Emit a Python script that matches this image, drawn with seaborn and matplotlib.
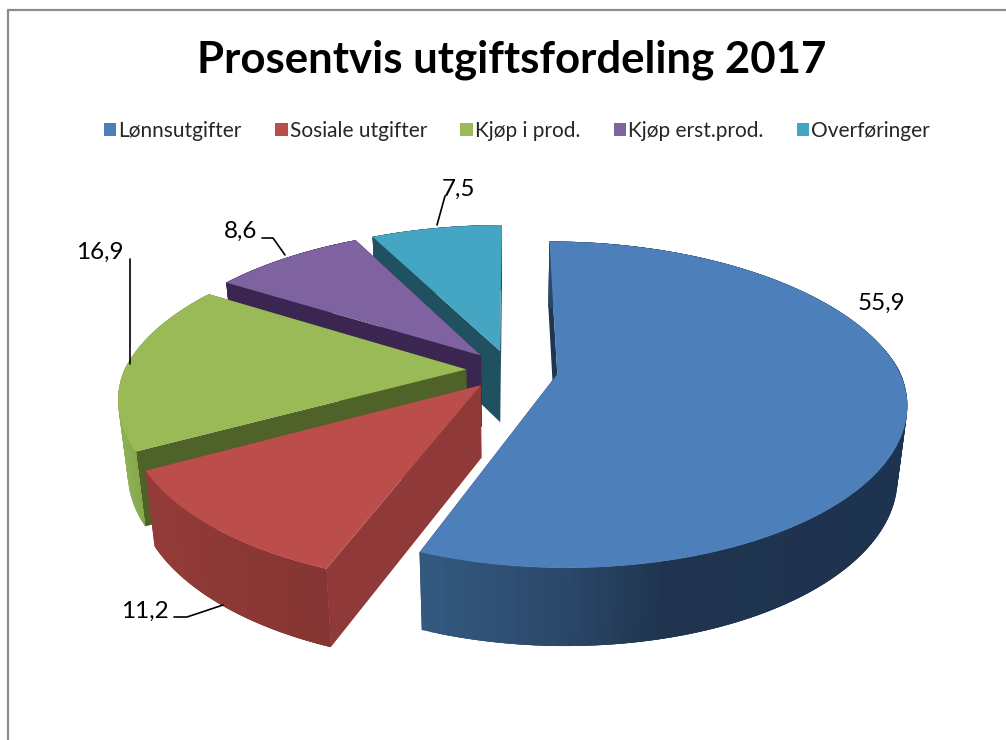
import numpy as np
import seaborn as sns
import matplotlib
matplotlib.use("Agg")
import matplotlib.pyplot as plt
import matplotlib.colors as mcolors
import matplotlib.transforms as mtransforms
from matplotlib.lines import Line2D

# =========================
# Data
# =========================
categories = ["Lønnsutgifter", "Sosiale utgifter", "Kjøp i prod.", "Kjøp erst.prod.", "Overføringer"]
values = [55.9, 11.2, 16.9, 8.6, 7.5]
value_labels = ["55,9", "11,2", "16,9", "8,6", "7,5"]
title = "Prosentvis utgiftsfordeling 2017"

# =========================
# Style
# =========================
top_colors = ["#4d7fbb", "#bb4e4b", "#9aba58", "#7f63a0", "#44a6c2"]
cut_colors = ["#1f3550", "#8f3a38", "#4f6228", "#3a2650", "#1f5160"]
outer_stops = [
    ([422, 560, 660, 905], ["#34597f", "#2a4869", "#20344f", "#1e3350"]),
    ([150, 330], ["#933b39", "#843532"]),
    ([120, 150], ["#8eb255", "#7da045"]),
    ([220, 360], ["#3a2650", "#3a2650"]),
    ([370, 505], ["#1f5160", "#1f5160"]),
]
explode = [0.14, 0.128, 0.128, 0.128, 0.128]
label_pos = [(881, 303), (145, 611), (100, 252), (241, 231), (459, 189)]
leaders = [
    None,
    ([174, 187, 223], [617, 617, 605]),
    ([130, 130], [259, 364]),
    ([262, 273, 285], [238, 238, 255]),
    ([437, 445], [225, 196]),
]

CX, CY = 510, 370
RX, RY = 342, 156
KX_BACK, KX_FRONT, KY = 0.20, 0.17, 0.187


# tilted view of the unit pie, z=0 is the top face and z=1 the bottom one
def project(u, v, z=0.0):
    u = np.asarray(u, dtype=float)
    v = np.asarray(v, dtype=float)
    kx = np.where(v > 0, KX_BACK, KX_FRONT)
    x = CX + RX * u / (1 + kx * v)
    y = CY - RY * v / (1 + KY * v)
    x = CX + (x - CX) * (1 - 0.025 * z)
    y = y + (72 - 6 * v) * z
    return x, y


class TiltTransform(mtransforms.Transform):
    input_dims = 2
    output_dims = 2
    is_separable = False
    has_inverse = False

    def transform_non_affine(self, values):
        x, y = project(values[:, 0], values[:, 1])
        return np.column_stack([x, y])


def stop_color(x, stops):
    rgb = np.array([mcolors.to_rgb(c) for c in stops[1]])
    return [float(np.interp(x, stops[0], rgb[:, i])) for i in range(3)]


# =========================
# Plot
# =========================
sns.set_theme(style="white")
plt.rcParams["font.family"] = ["Lato", "DejaVu Sans"]

fig, ax = plt.subplots(figsize=(10.06, 7.40), dpi=100)
ax.set_position([0, 0, 1, 1])

wedges, _ = ax.pie(
    values,
    explode=explode,
    colors=sns.color_palette(top_colors),
    startangle=90,
    counterclock=False,
)

ax.set_aspect("auto")
ax.set_xlim(0, 1006)
ax.set_ylim(740, 0)
ax.axis("off")

tilt = TiltTransform()
draw_order = {4: 0, 3: 1, 2: 2, 1: 3, 0: 4}

for i, wedge in enumerate(wedges):
    base = draw_order[i] * 10 + 2
    wedge.set_transform(tilt + ax.transData)
    wedge.set_zorder(base + 3)
    wedge.set_edgecolor("none")
    wedge.set_linewidth(0)

    c_u, c_v = wedge.center
    angles = np.radians(np.linspace(wedge.theta1, wedge.theta2, 160))
    edge_u = c_u + wedge.r * np.cos(angles)
    edge_v = c_v + wedge.r * np.sin(angles)

    # the two cut faces
    for k in [0, -1]:
        x0, y0 = project([c_u, edge_u[k]], [c_v, edge_v[k]], 0)
        x1, y1 = project([c_u, edge_u[k]], [c_v, edge_v[k]], 1)
        ax.fill(
            [x0[0], x0[1], x1[1], x1[0]],
            [y0[0], y0[1], y1[1], y1[0]],
            color=cut_colors[i],
            lw=0,
            zorder=base + 1,
        )

    # rounded outer wall, strips overlap the next one so no seams show
    xt, yt = project(edge_u, edge_v, 0)
    xb, yb = project(edge_u, edge_v, 1)
    n = len(angles)
    for k in range(n - 1):
        e = min(k + 3, n - 1)
        ax.fill(
            [xt[k], xt[e], xb[e], xb[k]],
            [yt[k], yt[e], yb[e], yb[k]],
            color=stop_color(xt[k], outer_stops[i]),
            lw=0,
            zorder=base + 2,
        )

# value labels with their leader lines
for i, label in enumerate(value_labels):
    ax.text(label_pos[i][0], label_pos[i][1], label, fontsize=17.5, color="black",
            ha="center", va="center", zorder=100)
    if leaders[i] is not None:
        ax.plot(leaders[i][0], leaders[i][1], color="black", lw=1.2, zorder=100)

ax.text(512, 60, title, fontsize=31.5, fontweight="bold", color="black",
        ha="center", va="center", zorder=100)

ax.legend(
    wedges,
    categories,
    loc="center",
    bbox_to_anchor=(517, 131),
    bbox_transform=ax.transData,
    ncols=5,
    frameon=False,
    fontsize=15,
    handlelength=0.6,
    handleheight=0.6,
    handletextpad=0.1,
    columnspacing=1.6,
)

# chart frame, only top and left are in view
fig.add_artist(Line2D([8 / 1006, 8 / 1006, 1], [0, 1 - 10 / 740, 1 - 10 / 740],
                      color="#8c8c8c", lw=1.6))

fig.savefig("out.png", dpi=100, facecolor="white")
plt.close(fig)
